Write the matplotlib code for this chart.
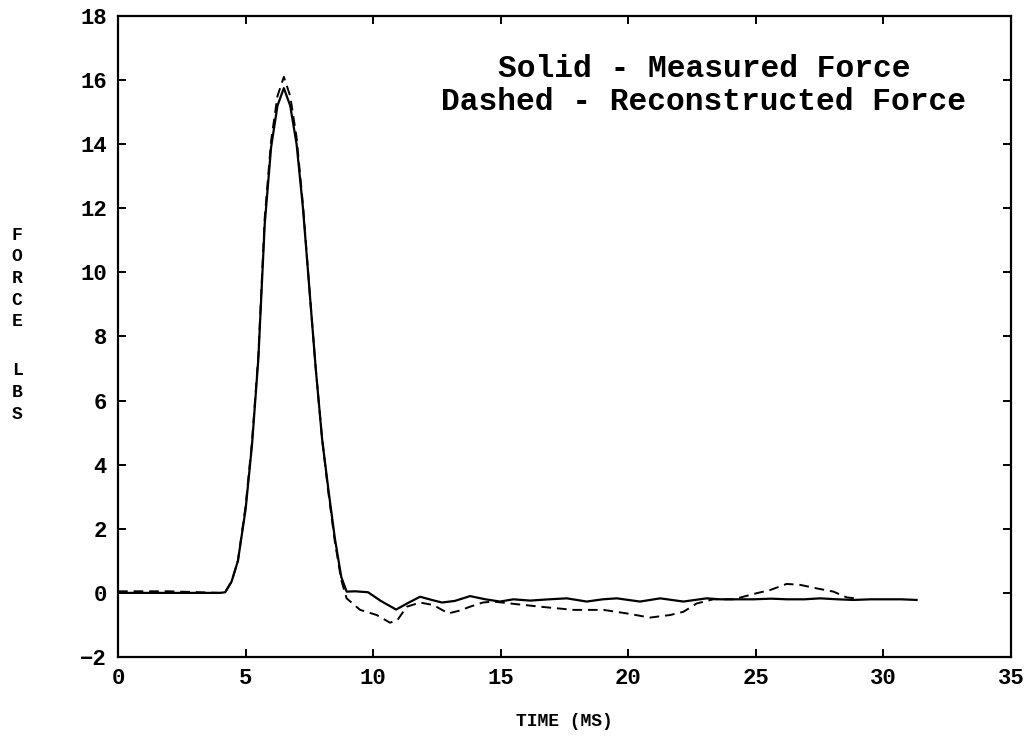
#!/usr/bin/env python3
"""Measured vs reconstructed force pulse (digitised from the scanned plot)."""

from __future__ import annotations

import matplotlib

matplotlib.use("Agg")
import matplotlib.pyplot as plt

FONT = "Liberation Mono"

# Solid - measured force
measured_t = [0.0, 2.0, 4.0, 4.2, 4.45, 4.7, 5.0, 5.25, 5.5, 5.75, 6.0, 6.25, 6.5,
              6.75, 7.0, 7.25, 7.5, 7.75, 8.0, 8.25, 8.5, 8.75, 8.96, 9.3, 9.8,
              10.3, 10.9, 11.4, 11.84, 12.3, 12.7, 13.2, 13.8, 14.4, 14.97, 15.5,
              16.15, 16.9, 17.59, 18.37, 19.0, 19.55, 20.46, 21.25, 22.16, 23.07,
              23.6, 24.12, 24.9, 25.6, 26.21, 26.9, 27.52, 28.2, 28.82, 29.5,
              30.13, 30.7, 31.3]
measured_f = [0.0, 0.0, 0.0, 0.02, 0.35, 1.0, 2.6, 4.6, 7.3, 11.5, 13.9, 15.2, 15.75,
              15.2, 14.0, 12.0, 9.5, 7.0, 4.8, 3.2, 1.7, 0.5, 0.04, 0.05, 0.02,
              -0.25, -0.52, -0.3, -0.12, -0.22, -0.3, -0.25, -0.1, -0.2, -0.27, -0.2,
              -0.24, -0.2, -0.17, -0.27, -0.2, -0.17, -0.27, -0.17, -0.27, -0.17,
              -0.2, -0.2, -0.2, -0.18, -0.2, -0.2, -0.17, -0.2, -0.22, -0.2,
              -0.2, -0.2, -0.22]

# Dashed - reconstructed force
recon_t = [0.0, 2.0, 4.0, 4.2, 4.45, 4.7, 5.0, 5.25, 5.5, 5.75, 6.0, 6.25, 6.5,
           6.75, 7.0, 7.25, 7.5, 7.75, 8.0, 8.25, 8.5, 8.75, 8.96, 9.49, 10.14,
           10.66, 10.95, 11.32, 11.84, 12.36, 12.95, 13.4, 13.8, 14.3, 14.71,
           15.6, 16.54, 17.2, 17.85, 19.03, 19.94, 20.85, 21.64, 22.16, 22.68,
           23.33, 24.12, 25.03, 25.56, 26.21, 26.74, 27.39, 28.04, 28.56, 29.0]
recon_f = [0.05, 0.05, 0.0, 0.02, 0.35, 1.0, 2.7, 4.7, 7.4, 11.7, 14.1, 15.5, 16.1,
           15.5, 14.2, 12.1, 9.5, 7.0, 4.8, 3.1, 1.6, 0.4, -0.17, -0.53, -0.69,
           -0.93, -0.85, -0.43, -0.3, -0.38, -0.64, -0.55, -0.43, -0.3, -0.27,
           -0.35, -0.43, -0.48, -0.53, -0.53, -0.64, -0.77, -0.69, -0.59, -0.33,
           -0.2, -0.2, -0.01, 0.09, 0.28, 0.25, 0.14, 0.04, -0.14, -0.18]

x_ticks = [0, 5, 10, 15, 20, 25, 30, 35]
y_ticks = [-2, 0, 2, 4, 6, 8, 10, 12, 14, 16, 18]

legend_lines = ["Solid - Measured Force", "Dashed - Reconstructed Force"]
y_label = "FORCE LBS"
x_label = "TIME (MS)"


def main() -> None:
    plt.rcParams["font.family"] = [FONT, "DejaVu Sans"]
    plt.rcParams["font.weight"] = "bold"

    fig = plt.figure(figsize=(10.26, 7.36), dpi=100)
    ax = fig.add_axes([118 / 1026, 1 - 657 / 736, (1011 - 118) / 1026, (657 - 16) / 736])

    ax.plot(measured_t, measured_f, color="black", lw=1.6)
    (dash,) = ax.plot(recon_t, recon_f, color="black", lw=1.4, linestyle="--")
    dash.set_dashes((5, 3))

    ax.set_xlim(0, 35)
    ax.set_ylim(-2, 18)
    ax.set_xticks(x_ticks)
    ax.set_yticks(y_ticks)
    ax.tick_params(direction="in", length=6, width=1.4, top=True, right=True,
                   labelsize=16)
    ax.tick_params(axis="x", pad=8)
    ax.tick_params(axis="y", pad=8)
    for lab in ax.get_xticklabels() + ax.get_yticklabels():
        lab.set_fontweight("bold")
    for sp in ax.spines.values():
        sp.set_linewidth(1.6)

    ax.text(0.656, 0.892, "\n".join(legend_lines), transform=ax.transAxes,
            ha="center", va="center", fontsize=22.5, fontweight="bold",
            linespacing=1.12)

    # vertical stacked y label, one letter per line
    step = 21.7
    y0 = 235
    row = 0
    for ch in y_label:
        if ch == " ":
            row += 1.25
            continue
        fig.text(17 / 1026, 1 - (y0 + row * step) / 736, ch, ha="center",
                 va="center", fontsize=13, fontweight="bold")
        row += 1

    fig.text(564 / 1026, 1 - 722 / 736, x_label, ha="center", va="center",
             fontsize=13, fontweight="bold")

    fig.savefig("out.png", dpi=100, facecolor="white")
    plt.close(fig)


if __name__ == "__main__":
    main()
